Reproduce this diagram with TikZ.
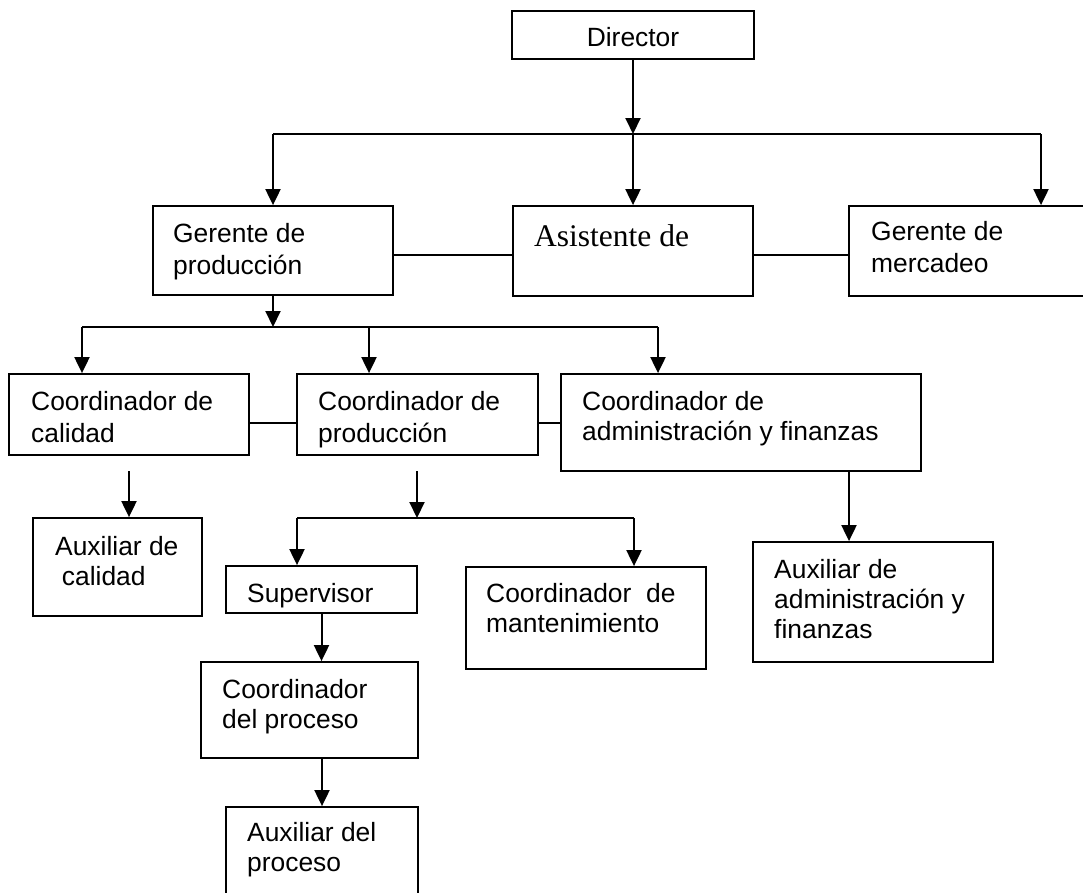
\documentclass[tikz,border=0pt]{standalone}
\usepackage{fontspec}
\setmainfont{Liberation Sans}
\newfontfamily\timesfont{Liberation Serif}
\usetikzlibrary{arrows.meta}

\tikzset{
  box/.style={draw, line width=1.8pt, rectangle, inner sep=0pt},
  link/.style={line width=2pt},
  arr/.style={link, -{Triangle[length=16pt,width=15pt]}},
  % anchor sits on the baseline of the last line
  txt/.style={anchor=base west, align=left, inner sep=0pt,
              font=\fontsize{26.4}{32}\selectfont},
  txtn/.style={txt, font=\fontsize{26.4}{30}\selectfont},
}

\begin{document}
\begin{tikzpicture}[x=1pt, y=-1pt]
\useasboundingbox (0,0) rectangle (1083,892);
\clip (0,0) rectangle (1083,892);

% ---- boxes ----
\node[box, minimum width=242pt, minimum height=48pt]  (dir)  at (633,35)    {};
\node[box, minimum width=240pt, minimum height=89pt]  (gp)   at (273,250.5) {};
\node[box, minimum width=240pt, minimum height=90pt]  (asis) at (633,251)   {};
\node[box, minimum width=246pt, minimum height=90pt]  (gm)   at (972,251)   {};
\node[box, minimum width=240pt, minimum height=81pt]  (cc)   at (129,414.5) {};
\node[box, minimum width=241pt, minimum height=81pt]  (cp)   at (417.5,414.5) {};
\node[box, minimum width=360pt, minimum height=97pt]  (ca)   at (741,422.5) {};
\node[box, minimum width=169pt, minimum height=98pt]  (ac)   at (117.5,567) {};
\node[box, minimum width=191pt, minimum height=47pt]  (sup)  at (321.5,589.5) {};
\node[box, minimum width=240pt, minimum height=102pt] (cm)   at (586,618)   {};
\node[box, minimum width=240pt, minimum height=120pt] (aa)   at (873,602)   {};
\node[box, minimum width=217pt, minimum height=96pt]  (cpr)  at (309.5,710) {};
\node[box, minimum width=192pt, minimum height=93pt]  (apr)  at (322,853.5) {};

% ---- labels ----
\node[txt, anchor=base] (dir-t) at (633,46) {Director};
\node[txt]  (gp-t)   at (173,274) {Gerente de\\producción};
\node[anchor=base west, inner sep=0pt, font=\timesfont\fontsize{31.5}{36}\selectfont]
            (asis-t) at (534,246) {Asistente de};
\node[txt]  (gm-t)   at (871,272) {Gerente de\\mercadeo};
\node[txt]  (cc-t)   at (31,442)  {Coordinador de\\calidad};
\node[txt]  (cp-t)   at (318,442) {Coordinador de\\producción};
\node[txtn] (ca-t)   at (582,440) {Coordinador de\\administración y finanzas};
\node[txtn] (ac-t)   at (55,585)  {Auxiliar de\\\hspace*{6.7pt}calidad};
\node[txt]  (sup-t)  at (247,602) {Supervisor};
\node[txtn] (cm-t)   at (486,632) {Coordinador\ \ de\\mantenimiento};
\node[txtn] (aa-t)   at (774,638) {Auxiliar de\\administración y\\finanzas};
\node[txtn] (cpr-t)  at (222,728) {Coordinador\\del proceso};
\node[txtn] (apr-t)  at (247,871) {Auxiliar del\\proceso};

% ---- junction points and row heights ----
\coordinate (bus1)  at (633,134);
\coordinate (bus1L) at (273,134);
\coordinate (bus1R) at (1041,134);
\coordinate (bus2)  at (273,327);
\coordinate (bus2L) at (82,327);
\coordinate (bus2M) at (369,327);
\coordinate (bus2R) at (658,327);
\coordinate (qa)    at (129,471);
\coordinate (pr)    at (417,471);
\coordinate (bus3)  at (417,518);
\coordinate (bus3L) at (297,518);
\coordinate (bus3R) at (634,518);
\coordinate (fin)   at (849,471);
\coordinate (row1)  at (0,254.5);
\coordinate (row2)  at (0,422.5);

% ---- first level ----
\draw[arr] (dir.south) -- (bus1);
\draw[link] (bus1L) -- (bus1R);
\draw[arr] (bus1L) -- (gp.north);
\draw[arr] (bus1) -- (asis.north);
\draw[arr] (bus1R) -- (bus1R |- gm.north);
\draw[link] (gp.east |- row1) -- (asis.west |- row1);
\draw[link] (asis.east |- row1) -- (gm.west |- row1);

% ---- second level ----
\draw[arr] (gp.south) -- (bus2);
\draw[link] (bus2L) -- (bus2R);
\draw[arr] (bus2L) -- (bus2L |- cc.north);
\draw[arr] (bus2M) -- (bus2M |- cp.north);
\draw[arr] (bus2R) -- (bus2R |- ca.north);
\draw[link] (cc.east |- row2) -- (cp.west |- row2);
\draw[link] (cp.east |- row2) -- (ca.west |- row2);

% ---- third level ----
\draw[arr] (qa) -- (qa |- ac.north);
\draw[arr] (pr) -- (bus3);
\draw[link] (bus3L) -- (bus3R);
\draw[arr] (bus3L) -- (bus3L |- sup.north);
\draw[arr] (bus3R) -- (bus3R |- cm.north);
\draw[arr] (fin) -- (fin |- aa.north);

% ---- process chain ----
\draw[arr] (sup.south) -- (sup.south |- cpr.north);
\draw[arr] (apr.north |- cpr.south) -- (apr.north);
\end{tikzpicture}
\end{document}
